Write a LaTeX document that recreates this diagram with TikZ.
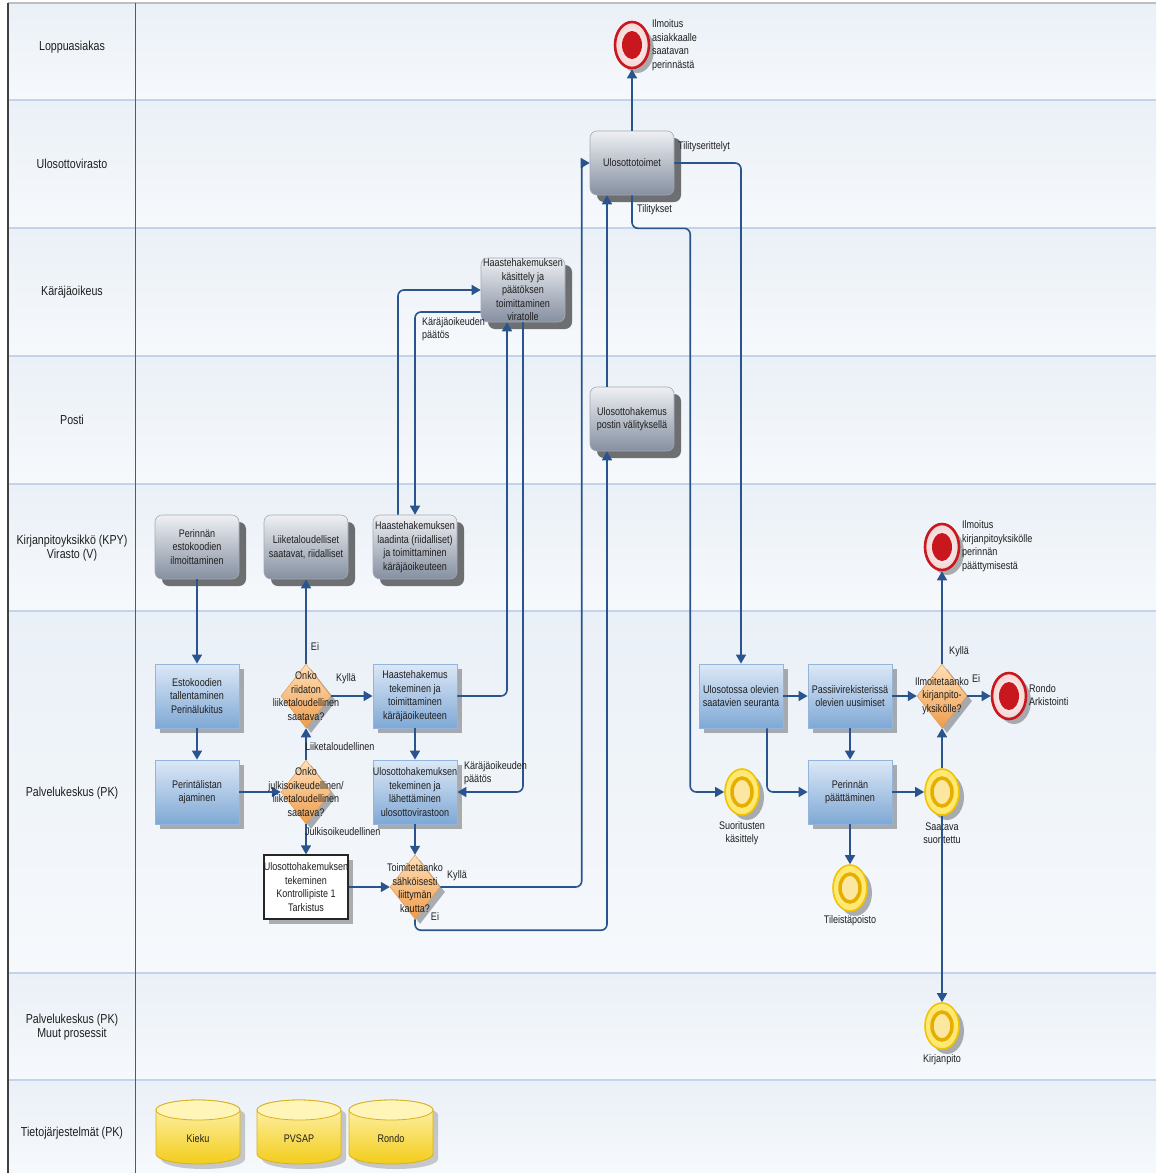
\documentclass[tikz,border=0pt]{standalone}
\usepackage{fontspec}
\setmainfont{Liberation Sans}[FakeStretch=0.82]
\usetikzlibrary{shapes.geometric,arrows.meta,shadows}
\definecolor{laneA}{HTML}{EAF0F7}
\definecolor{laneB}{HTML}{F6F9FC}
\definecolor{sepc}{HTML}{C2D3EA}
\definecolor{conc}{HTML}{2A548E}
\definecolor{grayT}{HTML}{EEF0F3}
\definecolor{grayB}{HTML}{858FA0}
\definecolor{grayD}{HTML}{A3AAB6}
\definecolor{blueT}{HTML}{DCE8F6}
\definecolor{blueB}{HTML}{7FA8D5}
\definecolor{blueD}{HTML}{93B5DC}
\definecolor{orT}{HTML}{FFE0B8}
\definecolor{orB}{HTML}{EE9D4E}
\definecolor{orD}{HTML}{E39A50}
\definecolor{redR}{HTML}{C8171D}
\definecolor{redF}{HTML}{F3D3D3}
\definecolor{yelR}{HTML}{F2C400}
\definecolor{yelF}{HTML}{FFE873}
\definecolor{yelI}{HTML}{E6AF00}
\definecolor{yelC}{HTML}{FBE7A0}
\definecolor{cylT}{HTML}{FFF5B8}
\definecolor{cylB}{HTML}{F3CC1A}
\definecolor{cylD}{HTML}{D8B020}
\definecolor{txt}{HTML}{1E1E1E}
\tikzset{
  cylpic/.pic={
    \fill[black!45,opacity=.45] (-37,-17) -- (-37,27) arc[start angle=180,end angle=0,x radius=42,y radius=10] -- (47,-17) arc[start angle=0,end angle=-180,x radius=42,y radius=10] -- cycle;
    \path[top color=cylT,bottom color=cylB,draw=cylD,line width=.8] (-42,-22) -- (-42,22) arc[start angle=180,end angle=0,x radius=42,y radius=10] -- (42,-22) arc[start angle=0,end angle=-180,x radius=42,y radius=10] -- cycle;
    \draw[cylD,line width=.8,fill=cylT] (0,-22) ellipse[x radius=42,y radius=10];
  }
}
\begin{document}
\begin{tikzpicture}[x=1pt,y=-1pt,font=\fontsize{11}{13.5}\selectfont,text=txt,
  shad/.style={drop shadow={shadow xshift=7pt,shadow yshift=-7pt,fill=black,opacity=.55}},
  lshad/.style={drop shadow={shadow xshift=5pt,shadow yshift=-5pt,fill=black,opacity=.3}},
  graybox/.style={rounded corners=7,minimum width=84,minimum height=64,inner xsep=-4pt,inner ysep=-2pt,align=center,
    top color=grayT,bottom color=grayB,draw=grayD,line width=.6,shad},
  bluebox/.style={minimum width=84,minimum height=64,inner xsep=-4pt,inner ysep=-2pt,align=center,
    top color=blueT,bottom color=blueB,draw=blueD,line width=.8,lshad},
  whitebox/.style={minimum width=84,minimum height=64,inner xsep=-4pt,inner ysep=-2pt,align=center,
    fill=white,draw=black!85,line width=1.3,lshad},
  dia/.style={diamond,minimum width=50,minimum height=64,inner sep=0,aspect=0.78,
    top color=orT,bottom color=orB,draw=orD,line width=.5,lshad},
  dtext/.style={align=center,inner sep=0},
  endev/.style={ellipse,minimum width=34,minimum height=46,inner sep=0,draw=redR,line width=2.6,
    inner color=white,outer color=redF,lshad},
  endin/.style={ellipse,minimum width=20,minimum height=28,inner sep=0,fill=redR},
  midev/.style={ellipse,minimum width=34,minimum height=46,inner sep=0,draw=yelR,line width=1.6,
    fill=yelF,lshad},
  midin/.style={ellipse,minimum width=20,minimum height=28,inner sep=0,draw=yelI,line width=3.5,fill=yelC},
  lanelab/.style={align=center,inner sep=0,font=\fontsize{13}{14.5}\selectfont},
  lbl/.style={align=left,inner sep=0},
  clbl/.style={align=center,inner sep=0},
  conn/.style={draw=conc,line width=1.6,rounded corners=6,-{Triangle[width=10pt,length=9pt]}}
]
\useasboundingbox (0,0) rectangle (1161,1173);
% lanes
\foreach \a/\b in {3/100,100/228,228/356,356/484,484/611,611/973,973/1080,1080/1173}
  \shade[top color=laneA,bottom color=laneB] (8,\a) rectangle (1156,\b);
\foreach \y in {100,228,356,484,611,973,1080}
  \draw[sepc,line width=2] (8,\y) -- (1156,\y);
\draw[black!25,line width=1.5] (8,3) -- (1156,3);
\draw[black!75,line width=1.2] (8,3) -- (8,1173);
\draw[black!65,line width=1] (135,3) -- (135,1173);

% lane labels
\node[lanelab] (l1) at (72,47) {Loppuasiakas};
\node[lanelab] (l2) at (72,164) {Ulosottovirasto};
\node[lanelab] (l3) at (72,292) {Käräjäoikeus};
\node[lanelab] (l4) at (72,420) {Posti};
\node[lanelab] (l5) at (72,548) {Kirjanpitoyksikkö (KPY)\\Virasto (V)};
\node[lanelab] (l6) at (72,793) {Palvelukeskus (PK)};
\node[lanelab] (l7) at (72,1027) {Palvelukeskus (PK)\\Muut prosessit};
\node[lanelab] (l8) at (72,1133) {Tietojärjestelmät (PK)};

% gray tasks
\node[graybox] (perest) at (197,547) {Perinnän\\estokoodien\\ilmoittaminen};
\node[graybox] (liiket) at (306,547) {Liiketaloudelliset\\saatavat, riidalliset};
\node[graybox] (haastelaad) at (415,547) {Haastehakemuksen\\laadinta (riidalliset)\\ja toimittaminen\\käräjäoikeuteen};
\node[graybox] (haastekas) at (523,290) {Haastehakemuksen\\käsittely ja\\päätöksen\\toimittaminen\\viratolle};
\node[graybox] (ulostoim) at (632,163) {Ulosottotoimet};
\node[graybox] (ulospost) at (632,419) {Ulosottohakemus\\postin välityksellä};

% blue tasks
\node[bluebox] (estotall) at (197,696) {Estokoodien\\tallentaminen\\Perinälukitus};
\node[bluebox] (perlist) at (197,792) {Perintälistan\\ajaminen};
\node[bluebox] (haastetek) at (415,696) {Haastehakemus\\tekeminen ja\\toimittaminen\\käräjäoikeuteen};
\node[bluebox] (ulostek) at (415,792) {Ulosottohakemuksen\\tekeminen ja\\lähettäminen\\ulosottovirastoon};
\node[whitebox] (kontr) at (306,887) {Ulosottohakemuksen\\tekeminen\\Kontrollipiste 1\\Tarkistus};
\node[bluebox] (seuranta) at (741,696) {Ulosotossa olevien\\saatavien seuranta};
\node[bluebox] (passiivi) at (850,696) {Passiivirekisterissä\\olevien uusimiset};
\node[bluebox] (paatt) at (850,792) {Perinnän\\päättäminen};

% gateways
\node[dia] (d1) at (306,696) {};
\node[dia] (d2) at (306,792) {};
\node[dia] (d3) at (415,887) {};
\node[dia] (d4) at (942,696) {};

% end events
\node[endev] (e1) at (632,45) {};
\node[endin] (e1i) at (e1) {};
\node[endev] (e2) at (942,547) {};
\node[endin] (e2i) at (e2) {};
\node[endev] (e3) at (1009,696) {};
\node[endin] (e3i) at (e3) {};
\node[lbl,anchor=west] (e1l) at (652,45) {Ilmoitus\\asiakkaalle\\saatavan\\perinnästä};
\node[lbl,anchor=west] (e2l) at (962,546) {Ilmoitus\\kirjanpitoyksikölle\\perinnän\\päättymisestä};
\node[lbl,anchor=west] (e3l) at (1029,695) {Rondo\\Arkistointi};

% intermediate events
\node[midev] (suor) at (742,792) {};
\node[midin] (suori) at (suor) {};
\node[midev] (saat) at (942,792) {};
\node[midin] (saati) at (saat) {};
\node[midev] (tilei) at (850,888) {};
\node[midin] (tileii) at (tilei) {};
\node[midev] (kirj) at (942,1026) {};
\node[midin] (kirji) at (kirj) {};
\node[clbl] (suorl) at (742,833) {Suoritusten\\käsittely};
\node[clbl] (saatl) at (942,833) {Saatava\\suoritettu};
\node[clbl] (teil) at (850,921) {Tileistäpoisto};
\node[clbl] (kirjl) at (942,1060) {Kirjanpito};

% data stores
\pic at (198,1132) {cylpic};
\pic at (299,1132) {cylpic};
\pic at (391,1132) {cylpic};
\node[clbl] (kieku) at (198,1139) {Kieku};
\node[clbl] (pvsap) at (299,1139) {PVSAP};
\node[clbl] (rondo) at (391,1139) {Rondo};

% connectors
\draw[conn] (perest.south) -- (estotall.north);
\draw[conn] (estotall.south) -- (perlist.north);
\draw[conn] (perlist.east) -- (d2.west);
\draw[conn] (d2.north) -- (d1.south);
\draw[conn] (d1.north) -- (liiket.south);
\draw[conn] (d1.east) -- (haastetek.west);
\draw[conn] (d2.south) -- (kontr.north);
\draw[conn] (kontr.east) -- (d3.west);
\draw[conn] (haastetek.south) -- (ulostek.north);
\draw[conn] (ulostek.south) -- (d3.north);
\draw[conn] (haastetek.east) -| ([xshift=-16pt]haastekas.south);
\draw[conn] (haastekas.south) |- (ulostek.east);
\draw[conn] ([xshift=-17pt]haastelaad.north) |- (haastekas.west);
\draw[conn] ([yshift=-22pt]haastekas.west) -| (haastelaad.north);
\draw[conn] (d3.east) -| ([xshift=-8pt]ulostoim.west) -- (ulostoim.west);
\draw[conn] (d3.south) -- ++(0,11) -| ([xshift=-25pt]ulospost.south);
\draw[conn] ([xshift=-25pt]ulospost.north) -- ([xshift=-25pt]ulostoim.south);
\draw[conn] (ulostoim.north) -- (e1.south);
\draw[conn] (ulostoim.east) -| (seuranta.north);
\draw[conn] (ulostoim.south) -- ++(0,33) -| ([xshift=-34pt]suor.west) -- (suor.west);
\draw[conn] (seuranta.east) -- (passiivi.west);
\draw[conn] ([xshift=26pt]seuranta.south) |- (paatt.west);
\draw[conn] (passiivi.south) -- (paatt.north);
\draw[conn] (passiivi.east) -- (d4.west);
\draw[conn] (paatt.east) -- (saat.west);
\draw[conn] (paatt.south) -- (tilei.north);
\draw[conn] (saat.north) -- (d4.south);
\draw[conn] (saat.south) -- (kirj.north);
\draw[conn] (d4.north) -- (e2.south);
\draw[conn] (d4.east) -- (e3.west);

% gateway texts
\node[dtext] (d1t) at (d1) {Onko\\riidaton\\liiketaloudellinen\\saatava?};
\node[dtext] (d2t) at (d2) {Onko\\julkisoikeudellinen/\\liiketaloudellinen\\saatava?};
\node[dtext] (d3t) at (415,888) {Toimitetaanko\\sähköisesti\\liittymän\\kautta?};
\node[dtext] (d4t) at (d4) {Ilmoitetaanko\\kirjanpito-\\yksikölle?};

% connector labels
\node[clbl] (t1) at (315,647) {Ei};
\node[clbl] (t2) at (346,679) {Kyllä};
\node[lbl,anchor=west] (t3) at (305,747) {Liiketaloudellinen};
\node[lbl,anchor=west] (t4) at (305,832) {Julkisoikeudellinen};
\node[lbl,anchor=west] (t5) at (464,773) {Käräjäoikeuden\\päätös};
\node[lbl,anchor=west] (t6) at (422,329) {Käräjäoikeuden\\päätös};
\node[clbl] (t7) at (457,876) {Kyllä};
\node[clbl] (t8) at (435,917) {Ei};
\node[lbl,anchor=west] (t9) at (678,147) {Tilityserittelyt};
\node[lbl,anchor=west] (t10) at (637,210) {Tilitykset};
\node[clbl] (t11) at (959,652) {Kyllä};
\node[clbl] (t12) at (976,679) {Ei};
\end{tikzpicture}
\end{document}
